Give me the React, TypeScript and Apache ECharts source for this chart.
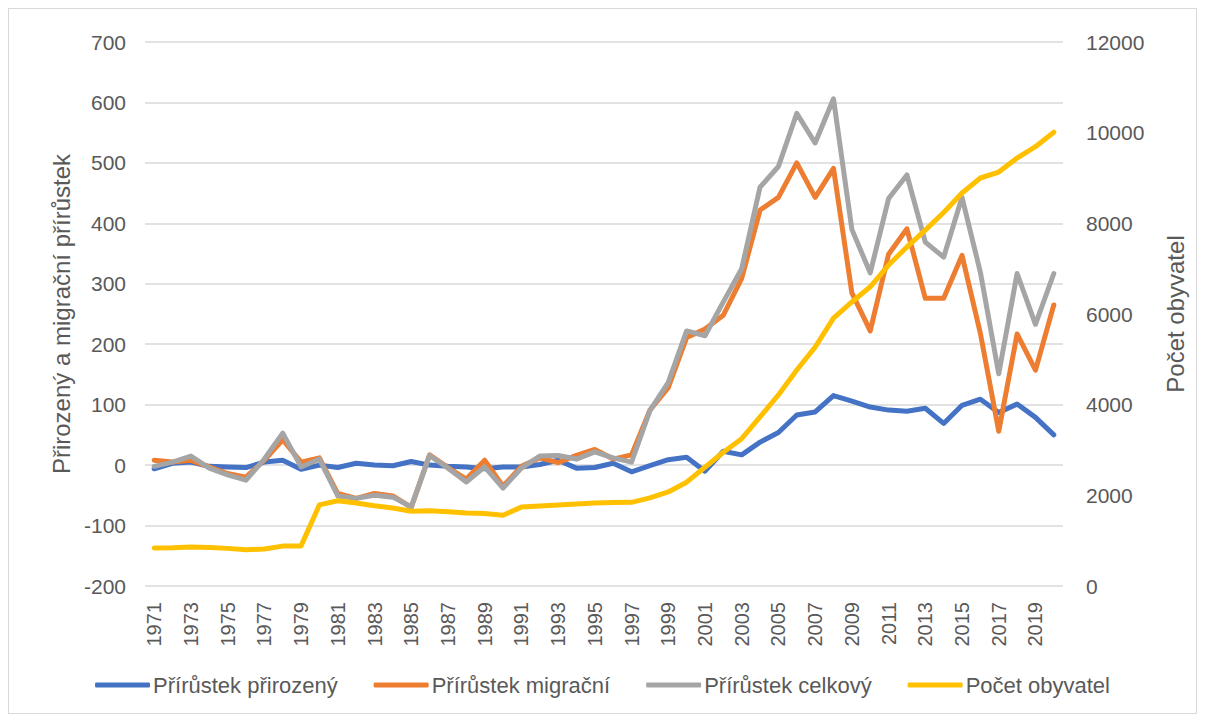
import React, { useEffect, useRef } from "react";
import * as echarts from "echarts";

const years: string[] = [];
for (let y = 1971; y <= 2020; y++) years.push(String(y));

const natural = [
  -6, 3, 5, -2, -3, -4, 5, 8, -7, 0,
  -4, 3, 0, -1, 6, 0, -2, -3, -6, -3,
  -3, 1, 8, -5, -4, 3, -11, -1, 9, 13,
  -10, 23, 17, 38, 54, 83, 88, 115, 106, 96,
  91, 89, 94, 69, 99, 109, 87, 101, 79, 50,
];

const migration = [
  8, 5, 8, -3, -14, -20, 8, 42, 5, 12,
  -47, -55, -47, -51, -70, 17, -4, -23, 8, -35,
  -2, 12, 4, 16, 26, 10, 17, 91, 128, 211,
  225, 248, 309, 422, 443, 500, 443, 491, 285, 222,
  349, 391, 276, 276, 347, 218, 56, 217, 157, 265,
];

const total = [
  -2, 5, 15, -5, -16, -25, 10, 53, -3, 10,
  -51, -55, -50, -53, -69, 16, -5, -28, -3, -38,
  -5, 15, 16, 10, 22, 12, 5, 90, 137, 222,
  214, 270, 325, 460, 494, 582, 533, 606, 390, 318,
  441, 480, 369, 344, 443, 319, 151, 317, 233, 317,
];

const population = [
  840, 845, 860, 850, 830, 800, 815, 880, 885, 1790,
  1880, 1830, 1770, 1720, 1650, 1660, 1640, 1610, 1600, 1560,
  1740, 1765, 1785, 1810, 1830, 1840, 1845, 1945, 2075, 2290,
  2620, 2950, 3250, 3730, 4215, 4765, 5270, 5910, 6265, 6600,
  7080, 7480, 7850, 8240, 8670, 9000, 9130, 9440, 9690, 10010,
];

const seriesNames = [
  "Přírůstek přirozený",
  "Přírůstek migrační",
  "Přírůstek celkový",
  "Počet obyvatel",
];
const colors = ["#4472C4", "#ED7D31", "#A5A5A5", "#FFC000"];

const FONT = "Liberation Sans, Arial, sans-serif";
const TXT = "#595959";

export default function App() {
  const ref = useRef<HTMLDivElement>(null);
  useEffect(() => {
    if (!ref.current) return;
    const chart = echarts.init(ref.current, null, { renderer: "svg" });
    const datasets = [natural, migration, total, population];
    chart.setOption({
      animation: false,
      textStyle: { fontFamily: FONT, color: TXT },
      color: colors,
      grid: { left: 136, right: 133, top: 33, bottom: 127, containLabel: false },
      legend: {
        data: seriesNames,
        bottom: 12,
        left: "center",
        icon: "roundRect",
        itemWidth: 55,
        itemHeight: 5,
        itemGap: 36,
        textStyle: { fontFamily: FONT, fontSize: 22, color: TXT, padding: [0, 0, 0, -2] },
      },
      xAxis: {
        type: "category",
        data: years,
        boundaryGap: true,
        axisLine: { show: false },
        axisTick: { show: false },
        axisLabel: {
          interval: 1,
          rotate: 90,
          fontSize: 20,
          color: TXT,
          fontFamily: FONT,
          margin: 16,
        },
      },
      yAxis: [
        {
          type: "value",
          min: -200,
          max: 700,
          interval: 100,
          name: "Přirozený a migrační přírůstek",
          nameLocation: "middle",
          nameRotate: 90,
          nameGap: 64,
          nameTextStyle: { fontSize: 24, color: TXT, fontFamily: FONT },
          axisLine: { show: false },
          axisTick: { show: false },
          axisLabel: { fontSize: 21, color: TXT, fontFamily: FONT, margin: 19 },
          splitLine: { lineStyle: { color: "#D9D9D9", width: 1.5 } },
        },
        {
          type: "value",
          min: 0,
          max: 12000,
          interval: 2000,
          name: "Počet obyvatel",
          nameLocation: "middle",
          nameRotate: 90,
          nameGap: 100,
          nameTextStyle: { fontSize: 24, color: TXT, fontFamily: FONT },
          axisLine: { show: false },
          axisTick: { show: false },
          axisLabel: {
            fontSize: 21,
            color: TXT,
            fontFamily: FONT,
            margin: 23,
            formatter: (v: number) => String(v),
          },
          splitLine: { show: false },
        },
      ],
      series: seriesNames.map((name, i) => ({
        name,
        type: "line",
        yAxisIndex: i === 3 ? 1 : 0,
        data: datasets[i],
        showSymbol: false,
        symbol: "none",
        lineStyle: { width: 5, color: colors[i], cap: "round", join: "round" },
        itemStyle: { color: colors[i] },
      })),
    });
    return () => chart.dispose();
  }, []);
  return (
    <div
      ref={ref}
      style={{ width: 1187, height: 704, border: "1px solid #D9D9D9", background: "#fff" }}
    />
  );
}
